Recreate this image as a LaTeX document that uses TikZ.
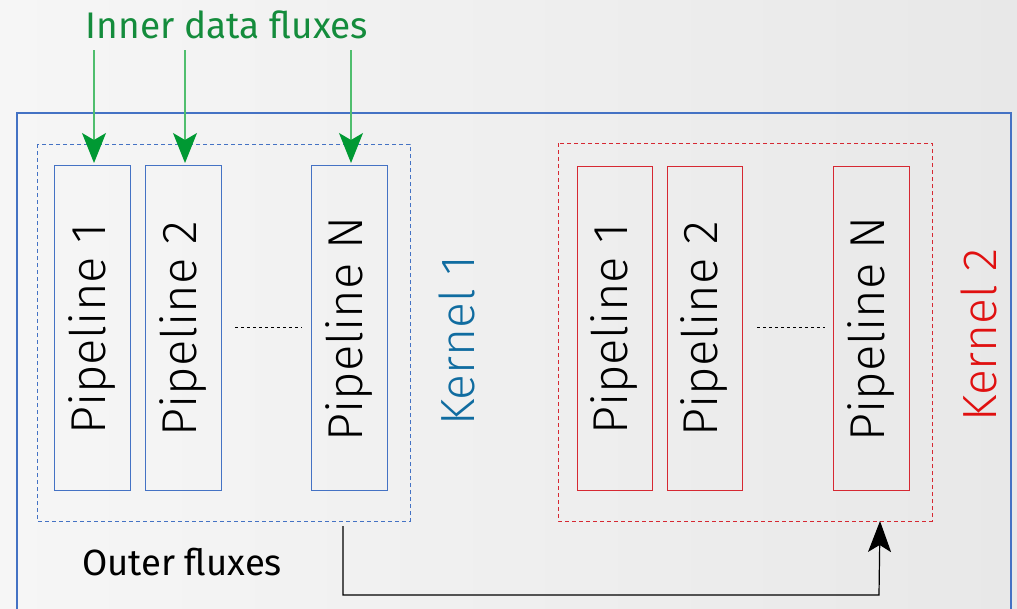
\documentclass[tikz,border=0pt]{standalone}
\usepackage{fontspec}
\setmainfont{Fira Sans}
\newfontfamily\lightfont{Fira Sans Light}
\usetikzlibrary{arrows.meta}
\definecolor{bgL}{RGB}{246,246,246}
\definecolor{bgR}{RGB}{232,232,232}
\definecolor{kblue}{RGB}{68,114,196}
\definecolor{kred}{RGB}{214,40,50}
\definecolor{ktblue}{RGB}{16,108,160}
\definecolor{ktred}{RGB}{224,16,16}
\definecolor{gtext}{RGB}{20,140,60}
\definecolor{gline}{RGB}{80,190,110}
\definecolor{ghead}{RGB}{0,153,51}
\tikzset{
  pipe/.style={draw=#1, line width=1pt},
  kernelbox/.style={draw=#1, line width=1pt, dash pattern=on 4pt off 3pt},
  pipetext/.style={rotate=90, font=\lightfont\fontsize{49}{49}\selectfont, text=black},
  ktext/.style={rotate=90, font=\lightfont\fontsize{48}{48}\selectfont},
  inarrow/.style={draw=gline, line width=1.2pt, -{Stealth[length=30pt,width=24pt,inset=7pt,color=ghead,fill=ghead]}},
  outarrow/.style={draw=black, line width=1.2pt, -{Stealth[length=31pt,width=23pt,inset=7pt]}},
  dots/.style={draw=black, line width=0.8pt, dash pattern=on 3pt off 3pt},
}
\begin{document}
\begin{tikzpicture}[x=1pt,y=-1pt]
\useasboundingbox (0,0) rectangle (1017,608);
\shade[left color=bgL, right color=bgR] (0,0) rectangle (1017,608);
% outer box
\draw[kblue, line width=1.3pt] (17,620) -- (17,113) -- (1011,113) -- (1011,620);
% kernels
\draw[kernelbox=kblue] (37,144) rectangle (410,521);
\draw[kernelbox=kred] (558,143) rectangle (932,521);
% kernel 1 pipelines
\draw[pipe=kblue] (54,165) rectangle (130,490);
\draw[pipe=kblue] (145,165) rectangle (221,490);
\draw[pipe=kblue] (311,165) rectangle (387,490);
\node[pipetext] (a1) at (92,329) {Pipeline 1};
\node[pipetext] (a2) at (183,329) {Pipeline 2};
\node[pipetext] (aN) at (349,329) {Pipeline N};
\draw[dots] (235,327) -- (302,327);
% kernel 2 pipelines
\draw[pipe=kred] (577,166) rectangle (652,490);
\draw[pipe=kred] (667,166) rectangle (742,490);
\draw[pipe=kred] (833,166) rectangle (909,490);
\node[pipetext] (b1) at (614,329) {Pipeline 1};
\node[pipetext] (b2) at (704,329) {Pipeline 2};
\node[pipetext] (bN) at (871,329) {Pipeline N};
\draw[dots] (757,327) -- (825,327);
% kernel labels
\node[ktext, text=ktblue] (k1) at (457,341) {Kernel 1};
\node[ktext, text=ktred] (k2) at (979,335) {Kernel 2};
% inner fluxes
\node[font=\fontsize{37}{37}\selectfont, text=gtext] (inner) at (227,25) {Inner data fluxes};
\coordinate (s1) at (94,50); \coordinate (t1) at (94,163);
\coordinate (s2) at (185,50); \coordinate (t2) at (185,163);
\coordinate (s3) at (351,50); \coordinate (t3) at (351,163);
\draw[inarrow] (s1) -- (t1);
\draw[inarrow] (s2) -- (t2);
\draw[inarrow] (s3) -- (t3);
% outer fluxes
\node[font=\fontsize{36.5}{36.5}\selectfont, text=black] (outer) at (182,562) {Outer fluxes};
\coordinate (o1) at (343,526);
\coordinate (o2) at (880,521);
\draw[outarrow] (o1) -- (343,595) -- (879,595) -- (o2);
\end{tikzpicture}
\end{document}
